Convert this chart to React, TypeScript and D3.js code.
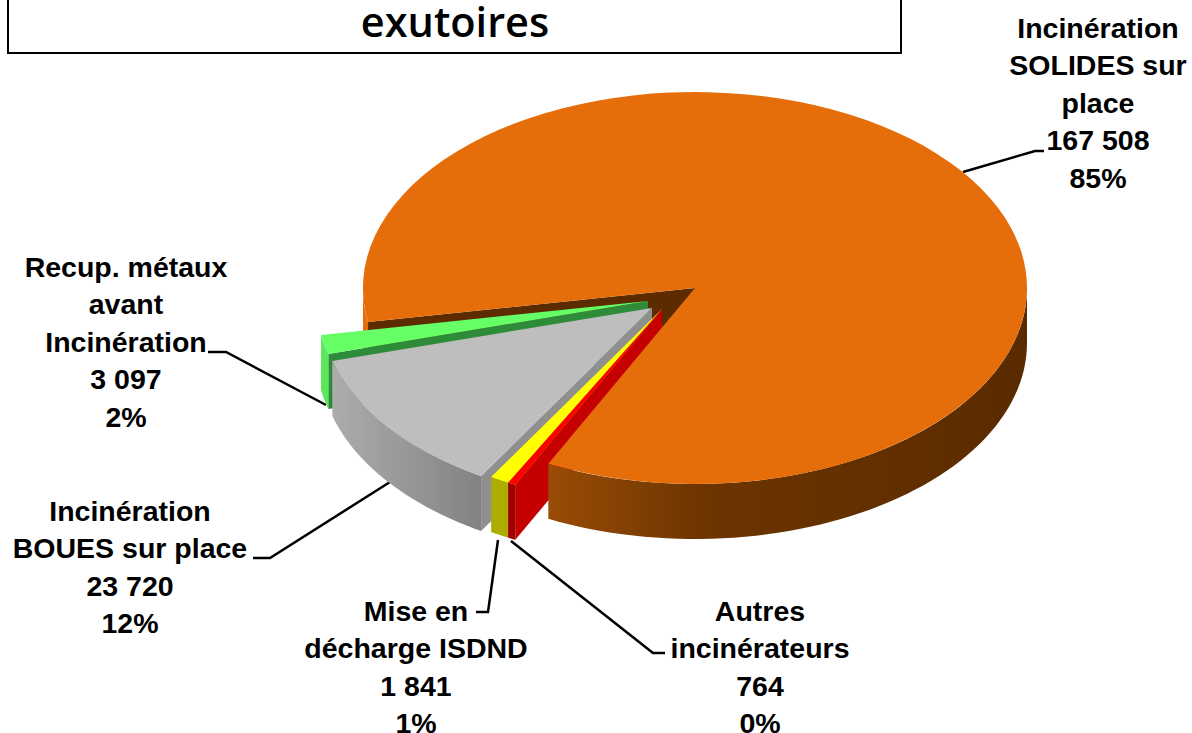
import * as d3 from "d3";

// tonnages par exutoire, dans l'ordre du camembert
const categories = [
  "Incinération SOLIDES sur place",
  "Autres incinérateurs",
  "Mise en décharge ISDND",
  "Incinération BOUES sur place",
  "Recup. métaux avant Incinération",
];
const tonnages = [167508, 764, 1841, 23720, 3097];
const valueLabels = ["167 508", "764", "1 841", "23 720", "3 097"];
const percentLabels = ["85%", "0%", "1%", "12%", "2%"];

const labelLines = [
  ["Incinération", "SOLIDES sur", "place"],
  ["Autres", "incinérateurs"],
  ["Mise en", "décharge ISDND"],
  ["Incinération", "BOUES sur place"],
  ["Recup. métaux", "avant", "Incinération"],
];

// layout
const width = 1192;
const height = 733;
const cx = 695;
const cy = 288;
const rx = 332;
const ry = 196;
const depth = 55;
const startDeg = 260;
const lineHeight = 37.4;

// decalage des parts sorties
const explode = [
  [0, 0],
  [-33, 21],
  [-33, 21],
  [-43, 20],
  [-47, 13],
];
const topColors = ["#e66e0a", "#ff0000", "#ffff00", "#bebebe", "#66ff66"];
const wallColors = ["#5c2c00", "#c40000", "#c8c800", "#8f8f8f", "#2e8b3a"];
const sideStops = [
  [["0", "#e66e0a"], ["0.28", "#994c06"], ["0.52", "#6c3400"], ["1", "#5a2b00"]],
  [["0", "#a00000"], ["1", "#a00000"]],
  [["0", "#adad00"], ["1", "#adad00"]],
  [["0", "#b0b0b0"], ["1", "#828282"]],
  [["0", "#5ce65c"], ["1", "#5ce65c"]],
];
// parts sorties, du fond vers l'avant
const drawOrder = [4, 3, 2, 1];
// x du centre du texte, y de la 1re ligne
const labelPos = [
  [1098, 38],
  [760, 621],
  [416, 621],
  [130, 521],
  [126, 277],
];
const leaders: [number, number][][] = [
  [[963, 172], [1035, 151], [1044, 151]],
  [[511, 541], [653, 653], [665, 653]],
  [[498, 540], [488, 612], [476, 612]],
  [[390, 482], [270, 558], [253, 558]],
  [[326, 405], [226, 352], [208, 352]],
];

const pie = d3
  .pie<number>()
  .value((d) => d)
  .sort(null)
  .startAngle((startDeg * Math.PI) / 180)
  .endAngle(((startDeg + 360) * Math.PI) / 180);

const arcs = pie(tonnages);
const topArc = d3.arc<d3.PieArcDatum<number>>().innerRadius(0).outerRadius(rx);
const line = d3.line();

// portions de l'arc exterieur tournees vers le bas de l'ecran
function visibleSpans(a0: number, a1: number) {
  const spans: [number, number][] = [];
  for (let k = 0; k < 2; k++) {
    const lo = Math.PI / 2 + k * 2 * Math.PI;
    const hi = lo + Math.PI;
    const s = Math.max(a0, lo);
    const e = Math.min(a1, hi);
    if (e > s) spans.push([s, e]);
  }
  return spans;
}

function sidePath(a0: number, a1: number, dx: number, dy: number) {
  const steps = d3.range(0, 61).map((i) => a0 + ((a1 - a0) * i) / 60);
  const upper = steps.map((a): [number, number] => [
    cx + dx + Math.sin(a) * rx,
    cy + dy - Math.cos(a) * ry,
  ]);
  const lower = upper
    .map((p): [number, number] => [p[0], p[1] + depth])
    .reverse();
  return line([...upper, ...lower]) + "Z";
}

function wallPath(a: number, dx: number, dy: number) {
  const ox = cx + dx;
  const oy = cy + dy;
  const px = ox + Math.sin(a) * rx;
  const py = oy - Math.cos(a) * ry;
  return (
    line([
      [ox, oy],
      [px, py],
      [px, py + depth],
      [ox, oy + depth],
    ]) + "Z"
  );
}

function Walls({ i }: { i: number }) {
  const d = arcs[i];
  const [dx, dy] = explode[i];
  return (
    <g>
      {Math.sin(d.startAngle) < 0 && (
        <path d={wallPath(d.startAngle, dx, dy)} fill={wallColors[i]} />
      )}
      {Math.sin(d.endAngle) > 0 && (
        <path d={wallPath(d.endAngle, dx, dy)} fill={wallColors[i]} />
      )}
    </g>
  );
}

function Sides({ i, spans }: { i: number; spans: [number, number][] }) {
  const [dx, dy] = explode[i];
  return (
    <g>
      {spans.map(([s, e]) => (
        <path key={s} d={sidePath(s, e, dx, dy)} fill={`url(#side${i})`} />
      ))}
    </g>
  );
}

function Top({ i }: { i: number }) {
  const [dx, dy] = explode[i];
  return (
    <path
      d={topArc(arcs[i]) ?? ""}
      fill={topColors[i]}
      transform={`translate(${cx + dx},${cy + dy}) scale(1,${ry / rx})`}
    />
  );
}

function App() {
  // la grande part passe derriere les parts sorties a gauche, devant a droite
  const mainSpans = visibleSpans(arcs[0].startAngle, arcs[0].endAngle);
  return (
    <svg
      width={width}
      height={height}
      style={{ position: "absolute", left: 0, top: 0, background: "#fff" }}
    >
      <defs>
        {sideStops.map((stops, i) => {
          // le degrade de la part grise s'arrete a son bord droit
          const [dx] = explode[i];
          const x1 = cx + dx - rx;
          const x2 = i === 3 ? 482 : cx + rx;
          return (
            <linearGradient
              key={i}
              id={`side${i}`}
              gradientUnits="userSpaceOnUse"
              x1={x1}
              x2={x2}
              y1={0}
              y2={0}
            >
              {stops.map(([o, c]) => (
                <stop key={o} offset={o} stopColor={c} />
              ))}
            </linearGradient>
          );
        })}
      </defs>

      {/* cadre du titre */}
      <rect x={8} y={-10} width={893} height={63} fill="#fff" stroke="#000" strokeWidth={2} />
      <text
        x={455}
        y={37}
        textAnchor="middle"
        fontFamily="'Open Sans', sans-serif"
        fontWeight={600}
        fontSize={41.5}
      >
        exutoires
      </text>

      {leaders.map((pts, i) => (
        <path key={i} d={line(pts) ?? ""} fill="none" stroke="#000" strokeWidth={2.5} />
      ))}

      <Walls i={0} />
      <Sides i={0} spans={mainSpans.slice(0, 1)} />
      {drawOrder.map((i) => (
        <g key={categories[i]}>
          <Walls i={i} />
          <Sides i={i} spans={visibleSpans(arcs[i].startAngle, arcs[i].endAngle)} />
          <Top i={i} />
        </g>
      ))}
      <Sides i={0} spans={mainSpans.slice(1)} />
      <Top i={0} />

      {categories.map((name, i) => {
        const [x, y] = labelPos[i];
        const rows = [...labelLines[i], valueLabels[i], percentLabels[i]];
        return (
          <text
            key={name}
            textAnchor="middle"
            fontFamily="'Liberation Sans', Arial, sans-serif"
            fontWeight={700}
            fontSize={28.5}
          >
            {rows.map((row, j) => (
              <tspan key={j} x={x} y={y + j * lineHeight}>
                {row}
              </tspan>
            ))}
          </text>
        );
      })}
    </svg>
  );
}

export default App;
